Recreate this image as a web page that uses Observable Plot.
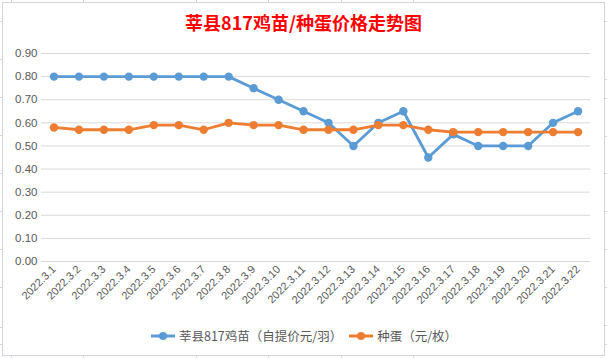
<!DOCTYPE html>
<html>
<head>
<meta charset="utf-8">
<script src="https://cdn.jsdelivr.net/npm/d3@7"></script>
<script src="https://cdn.jsdelivr.net/npm/@observablehq/plot@0.6"></script>
<style>
  html, body { margin: 0; padding: 0; background: #fff; }
  #wrap { position: relative; width: 607px; height: 358px; overflow: hidden; font-family: "Noto Sans CJK SC", "Liberation Sans", sans-serif; }
  #frame { position: absolute; left: 2px; top: 2px; width: 601px; height: 352px; border: 1px solid #d4d4dc; box-sizing: content-box; }
  .tk { position: absolute; background: #d4d4dc; }
  #title { position: absolute; left: 0; top: 9px; width: 607px; text-align: center; color: #ff0000; font-weight: bold; font-size: 18px; line-height: 26px; }
  #chart { position: absolute; left: 0; top: 40px; }
  #legend { position: absolute; left: 0; top: 326px; width: 607px; display: flex; justify-content: center; align-items: center; font-size: 12.5px; color: #595959; gap: 6px; }
  .li { display: flex; align-items: center; gap: 3px; }
</style>
</head>
<body>
<div id="wrap">
  <div id="frame"></div>
  <div id="title">莘县817鸡苗/种蛋价格走势图</div>
  <div id="chart"></div>
  <div id="legend"></div>
</div>
<script>
const dates = ["2022.3.1","2022.3.2","2022.3.3","2022.3.4","2022.3.5","2022.3.6","2022.3.7","2022.3.8","2022.3.9","2022.3.10","2022.3.11","2022.3.12","2022.3.13","2022.3.14","2022.3.15","2022.3.16","2022.3.17","2022.3.18","2022.3.19","2022.3.20","2022.3.21","2022.3.22"];
const chickPrice = [0.80,0.80,0.80,0.80,0.80,0.80,0.80,0.80,0.75,0.70,0.65,0.60,0.50,0.60,0.65,0.45,0.55,0.50,0.50,0.50,0.60,0.65];
const eggPrice = [0.58,0.57,0.57,0.57,0.59,0.59,0.57,0.60,0.59,0.59,0.57,0.57,0.57,0.59,0.59,0.57,0.56,0.56,0.56,0.56,0.56,0.56];
const seriesNames = ["莘县817鸡苗（自提价元/羽）", "种蛋（元/枚）"];
const seriesColors = ["#5B9BD5", "#ED7D31"];
const yTicks = [0,0.1,0.2,0.3,0.4,0.5,0.6,0.7,0.8,0.9];

const data = [];
dates.forEach((d, i) => {
  data.push({date: d, value: chickPrice[i], series: seriesNames[0]});
  data.push({date: d, value: eggPrice[i], series: seriesNames[1]});
});

// decorative spreadsheet cell ticks
const wrap = document.getElementById("wrap");
function tick(l, t, w, h) { const e = document.createElement("div"); e.className = "tk"; Object.assign(e.style, {left: l+"px", top: t+"px", width: w+"px", height: h+"px"}); wrap.appendChild(e); }
[11, 83, 196, 268, 341, 413].forEach(x => { tick(x, 0, 1, 2); tick(x, 356, 1, 2); });
[21, 59, 97, 135, 173, 211, 249, 287, 327, 344].forEach(y => tick(0, y, 2, 1));
[21, 79, 98, 136, 173, 211, 249, 287, 325, 344].forEach(y => tick(605, y, 2, 1));

const plot = Plot.plot({
  width: 607,
  height: 282,
  marginTop: 13,
  marginBottom: 61,
  marginLeft: 41,
  marginRight: 17,
  style: { fontFamily: "'Liberation Sans', sans-serif", fontSize: "11px", color: "#595959", background: "transparent" },
  x: { type: "band", domain: dates, padding: 0, round: false, label: null },
  y: { domain: [0, 0.9], label: null },
  color: { domain: seriesNames, range: seriesColors },
  marks: [
    Plot.gridY(yTicks, { stroke: "#d9d9d9", strokeOpacity: 1, strokeWidth: 1 }),
    Plot.axisY(yTicks, { tickSize: 0, tickPadding: 4, tickFormat: d3.format(".2f"), label: null, fontSize: 11.5, fill: "#595959" }),
    Plot.axisX({ tickSize: 0, tickRotate: -45, tickPadding: 6, label: null, fontSize: 11, fill: "#595959" }),
    Plot.line(data, { x: "date", y: "value", z: "series", stroke: "series", strokeWidth: 2.8, strokeLinejoin: "round" }),
    Plot.dot(data, { x: "date", y: "value", fill: "series", r: 4.2, stroke: "none" })
  ]
});
document.getElementById("chart").appendChild(plot);

// legend
const legend = document.getElementById("legend");
seriesNames.forEach((name, i) => {
  const item = document.createElement("div");
  item.className = "li";
  item.innerHTML = `<svg width="26" height="10"><line x1="1" y1="5" x2="25" y2="5" stroke="${seriesColors[i]}" stroke-width="3"/><circle cx="13" cy="5" r="4" fill="${seriesColors[i]}"/></svg><span>${name}</span>`;
  legend.appendChild(item);
});
</script>
</body>
</html>
